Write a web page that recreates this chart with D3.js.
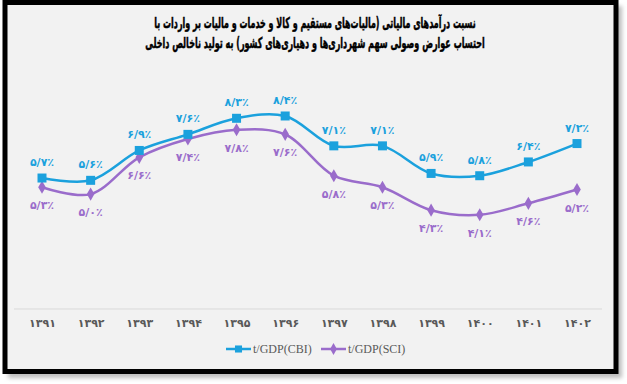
<!DOCTYPE html>
<html>
<head>
<meta charset="utf-8">
<script src="https://cdn.jsdelivr.net/npm/d3@7"></script>
<style>
  body { margin: 0; background: #fff; }
  svg { display: block; }
</style>
</head>
<body>
<div id="chart"></div>
<script>
// data
let years = ["۱۳۹۱", "۱۳۹۲", "۱۳۹۳", "۱۳۹۴", "۱۳۹۵", "۱۳۹۶", "۱۳۹۷", "۱۳۹۸", "۱۳۹۹", "۱۴۰۰", "۱۴۰۱", "۱۴۰۲"];
let cbi = [5.7, 5.6, 6.9, 7.6, 8.3, 8.4, 7.1, 7.1, 5.9, 5.8, 6.4, 7.2];
let sci = [5.3, 5.0, 6.6, 7.4, 7.8, 7.6, 5.8, 5.3, 4.3, 4.1, 4.6, 5.2];
let seriesNames = ["t/GDP(CBI)", "t/GDP(SCI)"];
let titleLines = [
    "نسبت درآمدهای مالیاتی (مالیات‌های مستقیم و کالا و خدمات و مالیات بر واردات با",
    "احتساب عوارض وصولی سهم شهرداری‌ها و دهیاری‌های کشور) به تولید ناخالص داخلی"
];
let titleWidths = [322, 340];

let width = 627, height = 384;
let blue = "#1ba1dd", purple = "#9a6ccb";

let svg = d3.select("#chart").append("svg")
    .attr("width", width)
    .attr("height", height);

// frame with shadow
svg.append("rect")
    .attr("x", 8).attr("y", 6)
    .attr("width", 614).attr("height", 372)
    .attr("fill", "#bdbdbd")
    .style("filter", "blur(2px)");
svg.append("rect")
    .attr("x", 5).attr("y", 2.5)
    .attr("width", 611).attr("height", 369)
    .attr("fill", "#f2f2f2")
    .attr("stroke", "#000")
    .attr("stroke-width", 5);

// title: squeezed sideways to the width of the original (narrower) font
svg.append("g").selectAll("text")
    .data(titleLines)
    .enter().append("text")
    .attr("text-anchor", "middle")
    .attr("direction", "rtl")
    .style("font-family", "DejaVu Sans")
    .style("font-weight", "bold")
    .style("font-size", "15px")
    .attr("fill", "#000")
    .attr("stroke", "#000")
    .attr("stroke-width", 0.5)
    .text(function(d) { return d; })
    .attr("transform", function(d, i) {
        let w = this.getComputedTextLength();
        return "translate(315," + (28 + i * 20) + ") scale(" + (titleWidths[i] / w) + ",1)";
    });

let x = d3.scalePoint().domain(years).range([42, 577]);
let y = d3.scaleLinear().domain([0, 9]).range([309, 102.2]);

// axis
svg.append("line")
    .attr("x1", 14).attr("x2", 602)
    .attr("y1", y(0)).attr("y2", y(0))
    .attr("stroke", "#d9d9d9")
    .attr("stroke-width", 1);

let xaxis = svg.append("g")
    .attr("transform", "translate(0," + y(0) + ")")
    .call(d3.axisBottom(x).tickSize(0).tickPadding(10));
xaxis.select(".domain").remove();
xaxis.selectAll("text")
    .style("font-family", "DejaVu Sans")
    .style("font-weight", "bold")
    .style("font-size", "11px")
    .attr("fill", "#595959");

function fa(v) {
    let digits = "۰۱۲۳۴۵۶۷۸۹";
    return v.toFixed(1).replace(".", "/").replace(/[0-9]/g, function(c) { return digits[+c]; }) + "٪";
}

let line = d3.line()
    .x(function(d, i) { return x(years[i]); })
    .y(function(d) { return y(d); })
    .curve(d3.curveCatmullRom.alpha(0.5));

// SCI series
svg.append("path")
    .datum(sci)
    .attr("d", line)
    .attr("fill", "none")
    .attr("stroke", purple)
    .attr("stroke-width", 2.5);

svg.selectAll(".sci-dot")
    .data(sci)
    .enter().append("path")
    .attr("class", "sci-dot")
    .attr("d", d3.symbol(d3.symbolDiamond, 50))
    .attr("transform", function(d, i) { return "translate(" + x(years[i]) + "," + y(d) + ")"; })
    .attr("fill", purple);

svg.selectAll(".sci-label")
    .data(sci)
    .enter().append("text")
    .attr("class", "sci-label")
    .attr("x", function(d, i) { return x(years[i]); })
    .attr("y", function(d) { return y(d) + 22; })
    .attr("text-anchor", "middle")
    .style("font-family", "DejaVu Sans")
    .style("font-weight", "bold")
    .style("font-size", "11px")
    .attr("fill", purple)
    .text(function(d) { return fa(d); });

// CBI series
svg.append("path")
    .datum(cbi)
    .attr("d", line)
    .attr("fill", "none")
    .attr("stroke", blue)
    .attr("stroke-width", 2.5);

svg.selectAll(".cbi-dot")
    .data(cbi)
    .enter().append("rect")
    .attr("class", "cbi-dot")
    .attr("x", function(d, i) { return x(years[i]) - 4.5; })
    .attr("y", function(d) { return y(d) - 4.5; })
    .attr("width", 9).attr("height", 9)
    .attr("fill", blue);

svg.selectAll(".cbi-label")
    .data(cbi)
    .enter().append("text")
    .attr("class", "cbi-label")
    .attr("x", function(d, i) { return x(years[i]); })
    .attr("y", function(d) { return y(d) - 12; })
    .attr("text-anchor", "middle")
    .style("font-family", "DejaVu Sans")
    .style("font-weight", "bold")
    .style("font-size", "11px")
    .attr("fill", blue)
    .text(function(d) { return fa(d); });

// legend
let legend = svg.append("g").attr("transform", "translate(226,349)");
let legendItems = [
    {name: seriesNames[0], color: blue, dx: 0, shape: "square"},
    {name: seriesNames[1], color: purple, dx: 95, shape: "diamond"}
];
let li = legend.selectAll("g")
    .data(legendItems)
    .enter().append("g")
    .attr("transform", function(d) { return "translate(" + d.dx + ",0)"; });
li.append("line")
    .attr("x1", 0).attr("x2", 25)
    .attr("stroke", function(d) { return d.color; })
    .attr("stroke-width", 2.5);
li.append("path")
    .attr("transform", "translate(12.5,0)")
    .attr("d", function(d) {
        return d.shape == "square" ? d3.symbol(d3.symbolSquare, 50)() : d3.symbol(d3.symbolDiamond, 40)();
    })
    .attr("fill", function(d) { return d.color; });
li.append("text")
    .attr("x", 27)
    .attr("y", 4)
    .style("font-family", "Liberation Serif")
    .style("font-size", "12px")
    .attr("fill", "#595959")
    .text(function(d) { return d.name; });
</script>
</body>
</html>
